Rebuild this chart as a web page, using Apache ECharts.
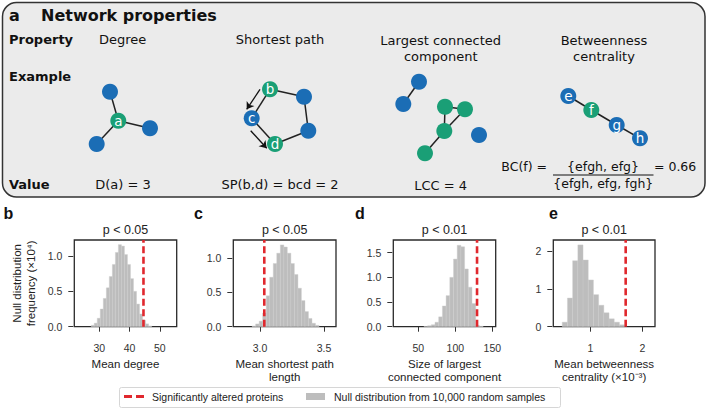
<!DOCTYPE html>
<html><head><meta charset="utf-8">
<script src="https://cdn.jsdelivr.net/npm/echarts@6/dist/echarts.min.js"></script>
<style>html,body{margin:0;padding:0;background:#fff}#c{width:708px;height:410px}</style>
</head><body><div id="c"></div>
<script>
// ---------------- DATA ----------------
const OBS_NAME = 'Significantly altered proteins';
const NULL_NAME = 'Null distribution from 10,000 random samples';

// b: mean degree (bin centres, frequency ×10^4)
const degreeBins = [27.8,28.8,29.8,30.8,31.8,32.8,33.8,34.8,35.8,36.8,37.8,38.8,39.8,40.8,41.8,42.8,43.8,44.8,45.8,46.8];
const degreeFreq = [0.02,0.05,0.12,0.25,0.40,0.55,0.71,0.88,1.05,1.16,1.14,1.02,0.88,0.68,0.50,0.32,0.18,0.09,0.04,0.01];
const degreeObserved = 44.6;
const degreeXTicks = [30,40,50];
const degreeYTicks = [0,0.5,1.0];

// c: mean shortest path length
const pathBins = [2.953,2.980,3.008,3.035,3.063,3.090,3.118,3.145,3.173,3.200,3.228,3.255,3.283,3.310,3.338,3.365,3.393,3.420,3.448];
const pathFreq = [0.01,0.04,0.08,0.20,0.45,0.72,0.92,1.07,1.19,1.16,1.07,0.92,0.76,0.56,0.38,0.22,0.12,0.05,0.02];
const pathObserved = 3.034;
const pathXTicks = [3.0,3.5];
const pathYTicks = [0,0.5,1.0];

// d: size of largest connected component
const lccBins = [60,65,70,75,80,85,90,95,100,105,110,115,120,125,130,135];
const lccFreq = [0.005,0.02,0.04,0.09,0.20,0.42,0.63,1.00,1.37,1.65,1.62,1.17,0.80,0.47,0.03,0.01];
const lccObserved = 129.3;
const lccXTicks = [50,100,150];
const lccYTicks = [0,0.5,1.0,1.5];

// e: mean betweenness centrality (×10^-3)
const bcBins = [0.51,0.61,0.71,0.81,0.91,1.01,1.11,1.21,1.31,1.41,1.51,1.61];
const bcFreq = [0.12,0.76,1.75,2.17,1.77,1.24,0.85,0.57,0.37,0.21,0.12,0.05];
const bcObserved = 1.68;
const bcXTicks = [1,2];
const bcYTicks = [0,1,2];

// a: schematic networks  [name, label, highlighted, x, y]
const diagramNodes = [
  ['deg1','',0,110,91.7],['a','a',1,118.3,120.7],['deg2','',0,150,128.3],['deg3','',0,96.7,144],
  ['b','b',1,270,89.3],['sp1','',0,304,96.7],['sp2','',0,308.3,130.7],['d','d',1,275,144],['c','c',0,251.7,118.3],
  ['lcc1','',0,419,81.7],['lcc2','',0,403.3,104],['lcc3','',1,445,106.7],['lcc4','',1,465,109.3],
  ['lcc5','',1,444.3,131],['lcc6','',1,425,153.3],['lcc7','',0,479,135],
  ['e','e',0,568.3,96],['f','f',1,591.3,110],['g','g',0,616.7,125],['h','h',0,640,138.3]
];
const diagramEdges = [['a','deg1'],['a','deg2'],['a','deg3'],['b','sp1'],['sp1','sp2'],['sp2','d'],['d','c'],['c','b'],
  ['lcc1','lcc2'],['lcc3','lcc4'],['lcc3','lcc5'],['lcc4','lcc5'],['lcc5','lcc6'],['e','f'],['f','g'],['g','h']];
const pathArrows = [[[260,89.3],[246.7,109.3]],[[250.7,130.7],[266.7,148.3]]];

// ---------------- STYLE ----------------
const SANS = '"Liberation Sans", Arial, sans-serif';
const DV = '"DejaVu Sans", sans-serif';
const BLUE = '#1b6db5', GREEN = '#1a9f76', RED = '#e0282e', GREY = '#bdbdbd', INK = '#222';

const panels = [
  {bins:degreeBins, freq:degreeFreq, w:1.0, obs:degreeObserved, xt:degreeXTicks, yt:degreeYTicks, xmin:21.7, xmax:55.6, ymax:1.226,
   left:74.3, width:102.4, xname:'Mean degree', yfmt:v=>v.toFixed(1), xfmt:v=>String(v), p:'p < 0.05', letter:'b', lx:3.5},
  {bins:pathBins, freq:pathFreq, w:0.0275, obs:pathObserved, xt:pathXTicks, yt:pathYTicks, xmin:2.792, xmax:3.594, ymax:1.262,
   left:233.3, width:102.7, xname:'Mean shortest path\nlength', yfmt:v=>v.toFixed(1), xfmt:v=>v.toFixed(1), p:'p < 0.05', letter:'c', lx:194},
  {bins:lccBins, freq:lccFreq, w:5, obs:lccObserved, xt:lccXTicks, yt:lccYTicks, xmin:16.2, xmax:154.5, ymax:1.757,
   left:393.3, width:102.4, xname:'Size of largest\nconnected component', yfmt:v=>v.toFixed(1), xfmt:v=>String(v), p:'p < 0.01', letter:'d', lx:355},
  {bins:bcBins, freq:bcFreq, w:0.1, obs:bcObserved, xt:bcXTicks, yt:bcYTicks, xmin:0.288, xmax:2.244, ymax:2.30,
   left:553.3, width:101.7, xname:'Mean betweenness\ncentrality (×10⁻³)', yfmt:v=>String(v), xfmt:v=>String(v), p:'p < 0.01', letter:'e', lx:549}
];
const TOP = 240, H = 86.7;

const grids = [], xAxes = [], yAxes = [], series = [], graphics = [];

panels.forEach((P, i) => {
  grids.push({left:P.left, top:TOP, width:P.width, height:H, show:true, borderColor:'#2a2a2a', borderWidth:1.3, backgroundColor:'#fff'});
  xAxes.push({type:'value', gridIndex:i, min:P.xmin, max:P.xmax, offset:2,
    axisLine:{show:false}, splitLine:{show:false},
    axisTick:{show:true, customValues:P.xt, length:5, lineStyle:{color:'#333', width:1}},
    axisLabel:{customValues:P.xt, formatter:P.xfmt, fontSize:10.5, color:'#333', margin:14, fontFamily:SANS},
    name:P.xname, nameLocation:'middle', nameGap:28.5,
    nameTextStyle:{fontSize:11.5, lineHeight:13.5, color:INK, fontFamily:SANS}
  });
  const ya = {type:'value', gridIndex:i, min:0, max:P.ymax, offset:1,
    axisLine:{show:false}, splitLine:{show:false},
    axisTick:{show:true, customValues:P.yt, length:5, lineStyle:{color:'#333', width:1}},
    axisLabel:{customValues:P.yt, formatter:P.yfmt, fontSize:10.5, color:'#333', margin:11, fontFamily:SANS}
  };
  if (i === 0) {
    ya.name = 'Null distribution\nfrequency (×10⁴)';
    ya.nameLocation = 'middle'; ya.nameRotate = 90; ya.nameGap = 35;
    ya.nameTextStyle = {fontSize:11.5, lineHeight:14, color:INK, fontFamily:SANS};
  }
  yAxes.push(ya);
  const bw = P.w;
  series.push({
    type:'custom', name:NULL_NAME, xAxisIndex:i, yAxisIndex:i, silent:true,
    itemStyle:{color:GREY},
    data:P.bins.map((c,k)=>[c, P.freq[k]]),
    encode:{x:0, y:1},
    renderItem:(params, api) => {
      const c = api.value(0), h = api.value(1);
      const a = api.coord([c - bw/2, h]), b = api.coord([c + bw/2, 0]);
      return {type:'rect', shape:{x:a[0], y:a[1], width:b[0]-a[0], height:b[1]-a[1]},
        style:{fill:GREY, stroke:'#cccccc', lineWidth:0.4}};
    }
  });
  series.push({
    type:'line', name:OBS_NAME, xAxisIndex:i, yAxisIndex:i, silent:true, symbol:'none', z:5,
    itemStyle:{color:RED},
    lineStyle:{color:RED, width:2.6, type:[7,3.5]},
    data:[[P.obs, 0],[P.obs, P.ymax]]
  });
  graphics.push({type:'text', x:P.left + P.width/2, y:229.5,
    style:{text:P.p, fontSize:12.5, fontFamily:SANS, fill:INK, align:'center', verticalAlign:'middle'}});
  graphics.push({type:'text', x:P.lx, y:213.5,
    style:{text:P.letter, fontSize:16, fontWeight:'bold', fontFamily:SANS, fill:'#111', align:'left', verticalAlign:'middle'}});
});

// hidden coordinate system for the schematic networks of panel a
grids.push({left:0, top:0, width:708, height:200, show:false});
xAxes.push({type:'value', gridIndex:4, min:0, max:708, show:false});
yAxes.push({type:'value', gridIndex:4, min:0, max:200, inverse:true, show:false});

series.push({
  type:'graph', coordinateSystem:'cartesian2d', xAxisIndex:4, yAxisIndex:4, layout:'none', silent:true,
  symbolSize:16, z:4,
  lineStyle:{color:INK, width:1.5, opacity:1},
  data:diagramNodes.map(n => ({
    name:n[0], value:[n[3], n[4]],
    itemStyle:{color: n[2] ? GREEN : BLUE},
    label:{show: n[1] !== '', formatter: n[1], position:'inside', color:'#fff', fontSize:13.5, fontFamily:DV}
  })),
  links:diagramEdges.map(e => ({source:e[0], target:e[1]}))
});
series.push({
  type:'lines', coordinateSystem:'cartesian2d', xAxisIndex:4, yAxisIndex:4, silent:true, z:5,
  symbol:['none','arrow'], symbolSize:7,
  lineStyle:{color:'#111', width:1.3, opacity:1},
  data:pathArrows.map(c => ({coords:c}))
});

// panel a frame and text
const T = (text, x, y, opt) => Object.assign({type:'text', x, y, z:10,
  style:Object.assign({text, fontSize:13, fontFamily:DV, fill:'#111', align:'center', verticalAlign:'middle'}, opt || {})});
graphics.push({type:'rect', z:-10, shape:{x:2.5, y:2.5, width:702.5, height:194.5, r:14},
  style:{fill:'#ebebeb', stroke:'#333', lineWidth:1.5}});
graphics.push(T('a', 9, 15.5, {fontSize:16, fontWeight:'bold', align:'left'}));
graphics.push(T('Network properties', 41, 15.5, {fontSize:16, fontWeight:'bold', align:'left'}));
graphics.push(T('Property', 9, 39.5, {fontWeight:'bold', align:'left'}));
graphics.push(T('Example', 9, 76, {fontWeight:'bold', align:'left'}));
graphics.push(T('Value', 9, 184.5, {fontWeight:'bold', align:'left'}));
graphics.push(T('Degree', 122.7, 39.5));
graphics.push(T('Shortest path', 280, 39.5));
graphics.push(T('Largest connected\ncomponent', 440.7, 48, {lineHeight:16}));
graphics.push(T('Betweenness\ncentrality', 604, 48, {lineHeight:16}));
graphics.push(T('D(a) = 3', 123, 184.5));
graphics.push(T('SP(b,d) = bcd = 2', 280, 184.5));
graphics.push(T('LCC = 4', 440.7, 185.5));
graphics.push(T('BC(f) =', 547, 166.5, {align:'right', fontSize:12.5}));
graphics.push(T('{efgh, efg}', 603, 166, {fontSize:12.5}));
graphics.push(T('{efgh, efg, fgh}', 603.3, 183.5, {fontSize:12.5}));
graphics.push(T('= 0.66', 654, 166.5, {align:'left', fontSize:12.5}));
graphics.push({type:'line', z:10, shape:{x1:553, y1:175, x2:653.5, y2:175}, style:{stroke:'#111', lineWidth:1}});

// legend frame
graphics.push({type:'rect', z:-5, shape:{x:119.5, y:387.5, width:441, height:20, r:2},
  style:{fill:'#fff', stroke:'#d6d6d6', lineWidth:1}});

const chart = echarts.init(document.getElementById('c'), null, {renderer:'svg'});
chart.setOption({
  animation:false,
  backgroundColor:'#fff',
  grid:grids, xAxis:xAxes, yAxis:yAxes, series:series, graphic:graphics,
  legend:[
    {data:[{name:OBS_NAME, icon:'path://M0,0h8v3h-8z M12,0h8v3h-8z'}], left:124, top:391, padding:0,
     itemWidth:20, itemHeight:3, selectedMode:false,
     textStyle:{fontSize:10.5, fontFamily:SANS, color:INK, padding:[0,0,0,3]}},
    {data:[{name:NULL_NAME, icon:'rect'}], left:306, top:391, padding:0,
     itemWidth:19, itemHeight:7, selectedMode:false,
     textStyle:{fontSize:10.5, fontFamily:SANS, color:INK, padding:[0,0,0,4]}}
  ]
});
</script></body></html>
